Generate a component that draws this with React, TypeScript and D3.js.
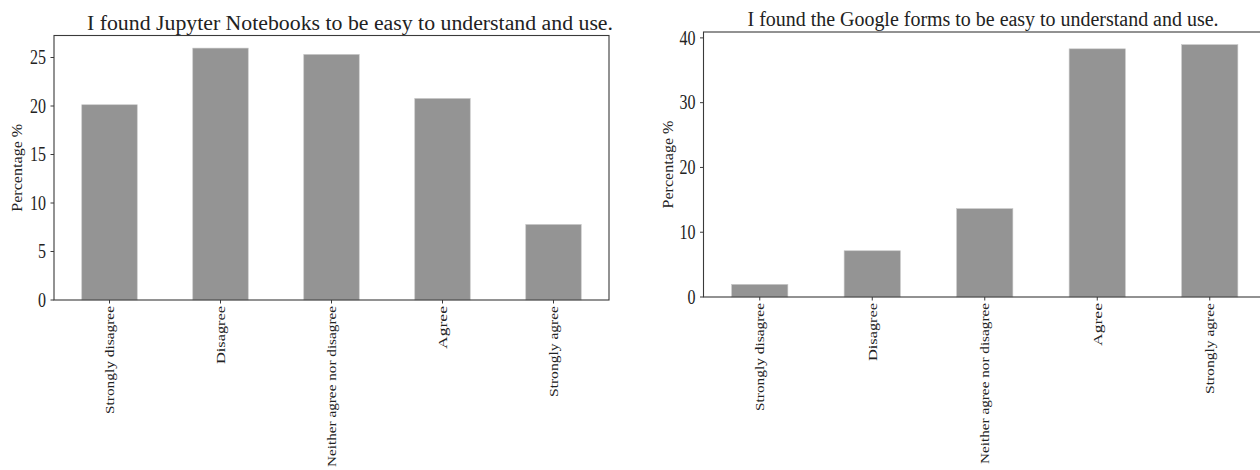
import React from "react";
import * as d3 from "d3";

const categories = [
  "Strongly disagree",
  "Disagree",
  "Neither agree nor disagree",
  "Agree",
  "Strongly agree",
];
const jupyterValues = [20.13, 25.97, 25.32, 20.78, 7.79];
const formsValues = [1.95, 7.14, 13.64, 38.31, 38.96];
const jupyterTicks = [0, 5, 10, 15, 20, 25];
const formsTicks = [0, 10, 20, 30, 40];
const jupyterTitle = "I found Jupyter Notebooks to be easy to understand and use.";
const formsTitle = "I found the Google forms to be easy to understand and use.";
const yLabel = "Percentage %";

const FONT = "'Liberation Serif', 'Times New Roman', serif";
const TEXT = "#222";
const BAR = "#949494";
const SPINE = "#3a3a3a";

// approximate rendered lengths of the rotated category labels (px)
const catLen = [108, 58, 161, 43, 91];

type PanelProps = {
  values: number[];
  ticks: number[];
  title: string;
  x0: number;
  x1: number;
  y0: number;
  y1: number;
  titleX: number;
  titleY: number;
  titleLen: number;
  ylabX: number;
};

function Panel(p: PanelProps) {
  const x = d3
    .scaleBand<string>()
    .domain(categories)
    .range([p.x0, p.x1])
    .paddingInner(0.5)
    .paddingOuter(0.25);
  const ymax = (d3.max(p.values) as number) * 1.05;
  const y = d3.scaleLinear().domain([0, ymax]).range([p.y1, p.y0]);
  const midY = (p.y0 + p.y1) / 2;
  return (
    <g>
      <text
        x={p.titleX}
        y={p.titleY}
        textAnchor="middle"
        fontFamily={FONT}
        fontSize={20}
        fill={TEXT}
        textLength={p.titleLen}
        lengthAdjust="spacingAndGlyphs"
      >
        {p.title}
      </text>
      {categories.map((c, i) => (
        <rect
          key={c}
          x={x(c)}
          y={y(p.values[i])}
          width={x.bandwidth()}
          height={y(0) - y(p.values[i])}
          fill={BAR}
          stroke="#c8c8c8"
          strokeWidth={0.6}
        />
      ))}
      <rect
        x={p.x0}
        y={p.y0}
        width={p.x1 - p.x0}
        height={p.y1 - p.y0}
        fill="none"
        stroke={SPINE}
        strokeWidth={1.1}
      />
      {p.ticks.map((t) => (
        <g key={t}>
          <line x1={p.x0 - 3.5} x2={p.x0} y1={y(t)} y2={y(t)} stroke={SPINE} strokeWidth={1} />
          <text
            x={p.x0 - 8}
            y={y(t) + 6.8}
            textAnchor="end"
            fontFamily={FONT}
            fontSize={20}
            fill={TEXT}
            textLength={String(t).length * 8}
            lengthAdjust="spacingAndGlyphs"
          >
            {t}
          </text>
        </g>
      ))}
      {categories.map((c, i) => {
        const cx = (x(c) as number) + x.bandwidth() / 2;
        return (
          <g key={c}>
            <line x1={cx} x2={cx} y1={p.y1} y2={p.y1 + 3.5} stroke={SPINE} strokeWidth={1} />
            <text
              transform={`translate(${cx + 4.5},${p.y1 + 6}) rotate(-90)`}
              textAnchor="end"
              fontFamily={FONT}
              fontSize={13.5}
              fill={TEXT}
              textLength={catLen[i]}
              lengthAdjust="spacingAndGlyphs"
            >
              {c}
            </text>
          </g>
        );
      })}
      <text
        transform={`translate(${p.ylabX},${midY}) rotate(-90)`}
        textAnchor="middle"
        fontFamily={FONT}
        fontSize={14}
        fill={TEXT}
        textLength={88}
        lengthAdjust="spacingAndGlyphs"
      >
        {yLabel}
      </text>
    </g>
  );
}

export default function App() {
  return (
    <svg
      width={1260}
      height={470}
      style={{ position: "absolute", left: 0, top: 0, background: "#fff" }}
    >
      <rect width={1260} height={470} fill="#fff" />
      <Panel
        values={jupyterValues}
        ticks={jupyterTicks}
        title={jupyterTitle}
        x0={54}
        x1={609}
        y0={35.5}
        y1={300}
        titleX={350}
        titleY={30}
        titleLen={526}
        ylabX={22}
      />
      <Panel
        values={formsValues}
        ticks={formsTicks}
        title={formsTitle}
        x0={703.5}
        x1={1266}
        y0={32}
        y1={297}
        titleX={983}
        titleY={26}
        titleLen={471}
        ylabX={673}
      />
    </svg>
  );
}
